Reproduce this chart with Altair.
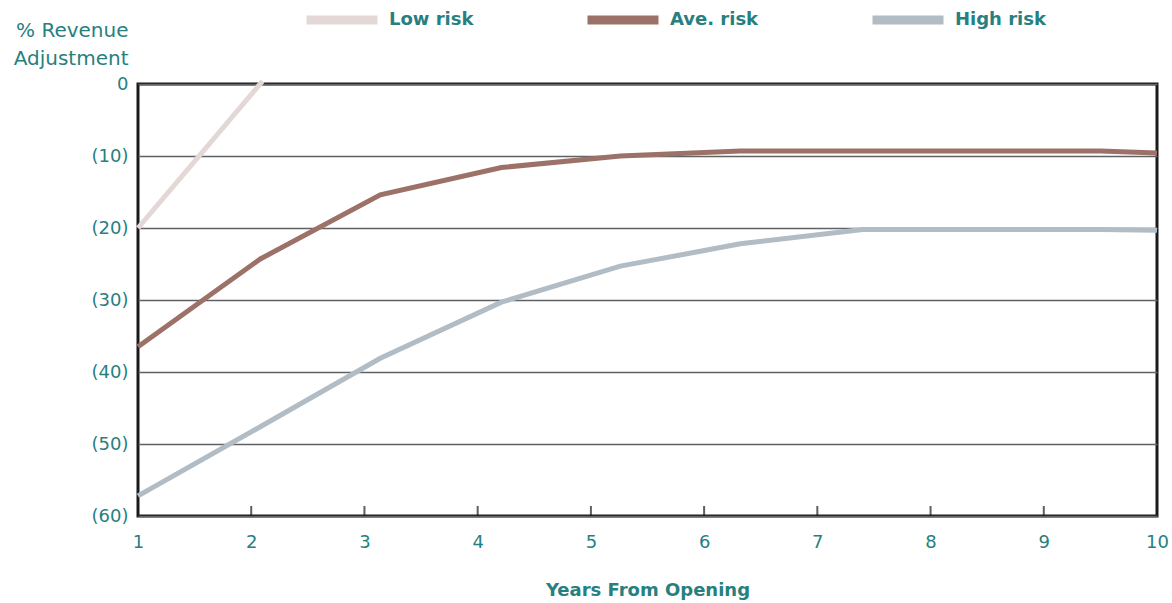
import altair as alt
import pandas as pd

# Revenue adjustment curves by risk profile (years from opening, % adjustment)
series_names = ["Low risk", "Ave. risk", "High risk"]
series_colors = ["#e3d8d6", "#9c7168", "#b1bcc5"]

low_years = [1.0, 2.1]
low_values = [-20.0, 0.4]

ave_years = [1.0, 2.08, 3.14, 4.21, 5.26, 6.32, 7.4, 8.45, 9.5, 10.0]
ave_values = [-36.5, -24.3, -15.4, -11.6, -10.0, -9.3, -9.3, -9.3, -9.3, -9.6]

high_years = [1.0, 2.08, 3.14, 4.21, 5.26, 6.32, 7.4, 8.45, 9.5, 10.0]
high_values = [-57.2, -47.6, -38.1, -30.3, -25.3, -22.2, -20.2, -20.2, -20.2, -20.3]

year_ticks = [1, 2, 3, 4, 5, 6, 7, 8, 9, 10]
inner_ticks = [2, 3, 4, 5, 6, 7, 8, 9]
y_ticks = [0, -10, -20, -30, -40, -50, -60]

TEAL = "#27807f"
FONT = "DejaVu Sans"

rows = []
for name, xs, ys in [
    (series_names[0], low_years, low_values),
    (series_names[1], ave_years, ave_values),
    (series_names[2], high_years, high_values),
]:
    for i, (x, y) in enumerate(zip(xs, ys)):
        rows.append({"series": name, "year": x, "value": y, "idx": i})
df = pd.DataFrame(rows)

x_scale = alt.Scale(domain=[1, 10], nice=False, zero=False)
y_scale = alt.Scale(domain=[-60, 0], nice=False, zero=False)

lines = alt.Chart(df).mark_line(strokeWidth=5, clip=False).encode(
    x=alt.X(
        "year:Q",
        scale=x_scale,
        axis=alt.Axis(
            values=year_ticks,
            format="d",
            grid=False,
            domain=False,
            ticks=False,
            labelPadding=17,
            labelFontSize=18,
            labelColor=TEAL,
            labelFont=FONT,
            labelFlush=False,
            title="Years From Opening",
            titleFont=FONT,
            titleFontSize=18,
            titleFontWeight="bold",
            titleColor=TEAL,
            titlePadding=30,
        ),
    ),
    y=alt.Y(
        "value:Q",
        scale=y_scale,
        axis=alt.Axis(
            values=y_ticks,
            grid=True,
            gridColor="#5e6264",
            gridWidth=1.6,
            domain=False,
            ticks=False,
            labelPadding=10,
            labelFontSize=18,
            labelColor=TEAL,
            labelFont=FONT,
            labelExpr="datum.value == 0 ? '0' : '(' + abs(datum.value) + ')'",
            title=["% Revenue", "Adjustment"],
            titleFont=FONT,
            titleFontSize=20,
            titleFontWeight="normal",
            titleColor=TEAL,
            titleAngle=0,
            titleAlign="right",
            titleBaseline="top",
            titleX=-10,
            titleY=-64,
            titleLineHeight=28,
        ),
    ),
    color=alt.Color(
        "series:N",
        scale=alt.Scale(domain=series_names, range=series_colors),
        sort=series_names,
        legend=alt.Legend(
            orient="none",
            direction="horizontal",
            legendX=164,
            legendY=-104,
            title=None,
            symbolType="stroke",
            symbolSize=5041,
            symbolStrokeWidth=9,
            labelFont=FONT,
            labelFontSize=18,
            labelFontWeight="bold",
            labelColor=TEAL,
            labelOffset=7,
            columnPadding=95,
        ),
    ),
    detail="series:N",
    order="idx:Q",
)

tick_df = pd.DataFrame({"year": inner_ticks, "value": [-60] * len(inner_ticks)})
ticks = alt.Chart(tick_df).mark_tick(
    orient="vertical", size=10, thickness=2, color="#1a1a1a", yOffset=-5
).encode(x=alt.X("year:Q", scale=x_scale), y=alt.Y("value:Q", scale=y_scale))

chart = (
    alt.layer(ticks, lines)
    .properties(
        width=1019,
        height=432,
        autosize=alt.AutoSizeParams(type="none"),
        padding={"left": 138, "top": 84, "right": 15, "bottom": 87},
        background="white",
    )
    .configure_view(stroke="#1a1a1a", strokeWidth=3)
)

chart.save("out.html", embed_options={"renderer": "svg", "actions": False})
